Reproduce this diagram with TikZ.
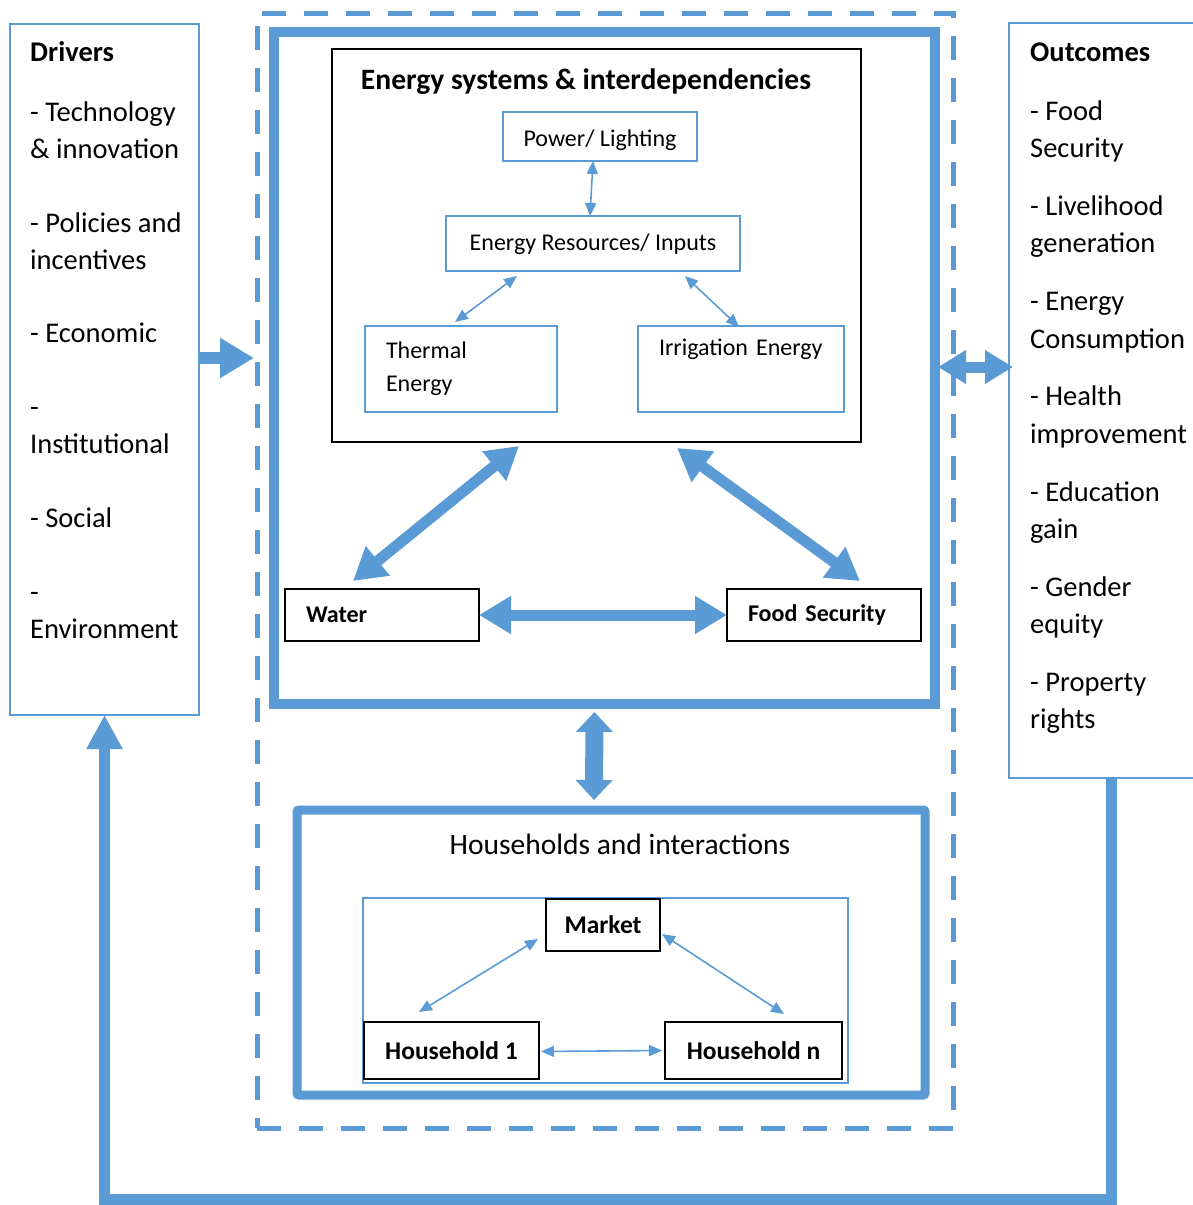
\documentclass[tikz,border=0pt]{standalone}
\usepackage{fontspec}
\setmainfont{Carlito}
\usepackage{tikz}
\usetikzlibrary{arrows.meta, positioning, calc}
\definecolor{myblue}{RGB}{91,155,213}
\tikzset{
  sidebox/.style={rectangle, draw=myblue, line width=1.3pt, outer sep=0pt, anchor=north west},
  thinbox/.style={rectangle, draw=myblue, line width=1.3pt, outer sep=0pt, inner sep=0pt,
    font=\fontsize{24}{33}\selectfont},
  blackbox/.style={rectangle, draw=black, line width=1.3pt, outer sep=0pt, inner sep=0pt},
  boldbox/.style={blackbox, font=\fontsize{24}{30}\selectfont\bfseries},
  thickbox/.style={rectangle, draw=myblue, line width=10pt, outer sep=0pt, anchor=north west},
  sidetext/.style={anchor=base west, inner sep=0pt, font=\fontsize{28.5}{37}\selectfont},
  sidehead/.style={sidetext, font=\fontsize{28.5}{37}\selectfont\bfseries},
  blockarrow/.style={draw=myblue, line width=11pt,
    {Triangle[width=36pt, length=32pt]}-{Triangle[width=36pt, length=32pt]}},
  thinarrow/.style={draw=myblue, line width=1.6pt,
    {Triangle[width=11pt, length=13pt]}-{Triangle[width=11pt, length=13pt]}},
  feedback/.style={draw=myblue, line width=11pt, -{Triangle[width=34pt, length=34pt]}}
}
\begin{document}
\begin{tikzpicture}[x=1pt, y=-1pt]
  \useasboundingbox (0,0) rectangle (1192,1205);

  % Drivers
  \node[sidebox, minimum width=189, minimum height=691] (drivers) at (10,24) {};
  \node[sidehead] (drvhead) at (30,61) {Drivers};
  \foreach \y/\t in {121/- Technology, 158/\& innovation, 232/- Policies and, 269/incentives,
      342/- Economic, 416/-, 453/Institutional, 527/- Social, 601/-, 638/Environment}
    \node[sidetext] (drv\y) at (30,\y) {\t};

  % Outcomes
  \node[sidebox, minimum width=200, minimum height=755] (outcomes) at (1009,23) {};
  \node[sidehead] (outhead) at (1030,61) {Outcomes};
  \foreach \y/\t in {120/- Food, 157/Security, 215/- Livelihood, 252/generation,
      310/- Energy, 348/Consumption, 405/- Health, 443/improvement, 501/- Education,
      538/gain, 596/- Gender, 633/equity, 691/- Property, 728/rights}
    \node[sidetext] (out\y) at (1030,\y) {\t};

  % System frame
  \node[rectangle, draw=myblue, line width=5pt, dash pattern=on 24pt off 18pt,
    outer sep=0pt, anchor=north west, minimum width=696, minimum height=1115] (frame) at (257,13) {};
  \node[thickbox, minimum width=661, minimum height=672] (mainbox) at (274,32) {};

  % Energy systems
  \node[blackbox, anchor=north west, minimum width=529, minimum height=393] (energy) at (332,49) {};
  \node[anchor=base, font=\fontsize{29.6}{34}\selectfont\bfseries] (energytitle) at (586,89)
    {Energy systems \& interdependencies};
  \node[thinbox, minimum width=194, minimum height=49, text height=25pt, text depth=5pt] (power) at (600,136.5) {Power/ Lighting};
  \node[thinbox, minimum width=294, minimum height=55, text height=19pt, text depth=5pt] (res) at (593,243.5) {Energy Resources/ Inputs};
  \node[thinbox, anchor=north west, minimum width=192, minimum height=86, inner xsep=21pt,
    text width=150pt, align=left] (thermal) at (365,326) {Thermal\\Energy};
  \node[thinbox, anchor=north west, minimum width=206, minimum height=86, inner xsep=21pt,
    text width=164pt, align=left] (irrig) at (638,326) {Irrigation~Energy\\\strut};

  \draw[thinarrow] ($(power.south)+(-7,0)$) -- ($(res.north)+(-3,0)$);
  \draw[thinarrow] ($(res.south west)+(71,5)$) -- ($(thermal.north west)+(90,-4)$);
  \draw[thinarrow] ($(res.south west)+(239,5)$) -- ($(irrig.north west)+(101,1)$);

  % Water and food
  \node[boldbox, anchor=north west, minimum width=194, minimum height=52, inner xsep=21pt,
    text width=152pt, align=left] (water) at (285,589) {Water};
  \node[boldbox, anchor=north west, minimum width=194, minimum height=52, inner xsep=21pt,
    text width=152pt, align=left] (food) at (727,589) {Food Security};

  \draw[blockarrow] ($(energy.south west)+(187,4)$) -- ($(water.north west)+(68,-8)$);
  \draw[blockarrow] ($(energy.south west)+(345,6)$) -- ($(food.north west)+(133,-8)$);
  \draw[blockarrow] (water.east) -- (food.west);

  % Households
  \node[thickbox, line width=9pt, rounded corners=2pt, minimum width=628, minimum height=285] (hh) at (297,810) {};
  \node[anchor=base, font=\fontsize{29.5}{34}\selectfont] (hhtitle) at (620,854) {Households and interactions};
  \node[sidebox, minimum width=485, minimum height=185] (hhinner) at (363,898) {};
  \node[blackbox, minimum width=114, minimum height=52, font=\fontsize{25.5}{30}\selectfont\bfseries]
    (market) at (603,925) {Market};
  \node[blackbox, anchor=north west, minimum width=175, minimum height=57,
    font=\fontsize{25.5}{30}\selectfont\bfseries] (hh1) at (364,1022) {Household 1};
  \node[blackbox, anchor=north west, minimum width=177, minimum height=57,
    font=\fontsize{25.5}{30}\selectfont\bfseries] (hhn) at (665,1022) {Household n};

  \draw[thinarrow] ($(market.south west)+(-8,-12)$) -- ($(hh1.north west)+(55,-10)$);
  \draw[thinarrow] ($(market.north east)+(2,35)$) -- ($(hhn.north west)+(119,-8)$);
  \draw[thinarrow] ($(hh1.east)+(2,1)$) -- ($(hhn.west)+(-3,0)$);

  % Links between blocks
  \draw[blockarrow, line width=18pt, arrows={Triangle[width=36pt, length=20pt]-Triangle[width=36pt, length=20pt]}]
    ($(mainbox.south)+(-10,8)$) -- ($(hh.north)+(-17,-10)$);
  \draw[blockarrow, line width=12pt, -{Triangle[width=38pt, length=34pt]}]
    ($(drivers.east)+(1,-11.5)$) -- ($(drivers.east -| frame.west)+(-3,-11.5)$);
  \draw[blockarrow, arrows={Triangle[width=32pt, length=28pt]-Triangle[width=32pt, length=28pt]}]
    ($(outcomes.west -| mainbox.east)+(3,-33.5)$) -- ($(outcomes.west)+(4,-33.5)$);

  % Feedback loop
  \coordinate (fbc) at (1111,1199);
  \draw[feedback] (outcomes.south -| fbc) -- (fbc) -| (drivers.south);
\end{tikzpicture}
\end{document}
